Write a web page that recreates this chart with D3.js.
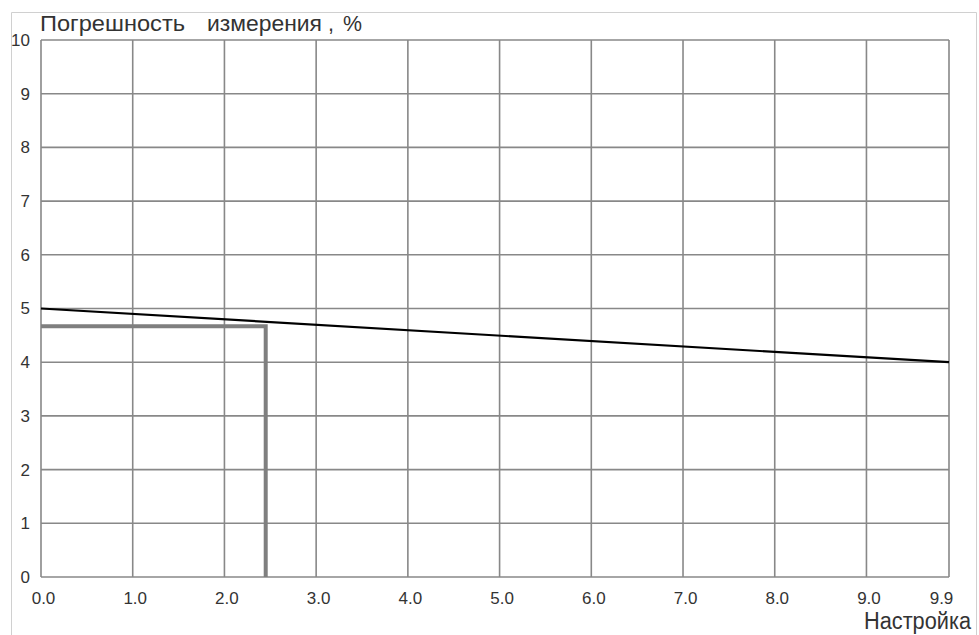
<!DOCTYPE html>
<html>
<head>
<meta charset="utf-8">
<script src="https://cdn.jsdelivr.net/npm/d3@7"></script>
<style>
  html, body { margin: 0; padding: 0; background: #fff; }
  svg { display: block; }
  text { font-family: "Liberation Sans", Arial, sans-serif; fill: #333; }
</style>
</head>
<body>
<script>
// Data
const xTickValues = [0, 1, 2, 3, 4, 5, 6, 7, 8, 9, 9.9];
const xTickLabels = ["0.0", "1.0", "2.0", "3.0", "4.0", "5.0", "6.0", "7.0", "8.0", "9.0", "9.9"];
const yTickValues = [0, 1, 2, 3, 4, 5, 6, 7, 8, 9, 10];
const errorLineX = [0, 9.9];
const errorLineY = [5, 4];
const markerX = [0, 2.45, 2.45];
const markerY = [4.67, 4.67, 0];
const yTitleParts = ["Погрешность", "измерения", ",", "%"];
const xTitle = "Настройка";

const W = 979, H = 635;
const margin = { left: 41, right: 30, top: 40, bottom: 58 };

const svg = d3.select("body").append("svg").attr("width", W).attr("height", H);

// outer frame
svg.append("path")
  .attr("d", `M11.5,${H} V12.5 H976.5 V${H}`)
  .attr("fill", "none").attr("stroke", "#d0d0d0").attr("stroke-width", 1);

const x = d3.scaleLinear().domain([0, 9.9]).range([margin.left, W - margin.right]);
const y = d3.scaleLinear().domain([0, 10]).range([H - margin.bottom, margin.top]);

// grid
const g = svg.append("g");
g.selectAll("line.v").data(xTickValues).enter().append("line")
  .attr("x1", d => x(d)).attr("x2", d => x(d))
  .attr("y1", y(0)).attr("y2", y(10))
  .attr("stroke", "#888").attr("stroke-width", 1.6);
g.selectAll("line.h").data(yTickValues).enter().append("line")
  .attr("y1", d => y(d)).attr("y2", d => y(d))
  .attr("x1", x(0)).attr("x2", x(9.9))
  .attr("stroke", "#888").attr("stroke-width", 1.6);

// axes labels via d3 axis
const xAxis = d3.axisBottom(x).tickValues(xTickValues)
  .tickFormat((d, i) => xTickLabels[i]).tickSize(0).tickPadding(15);
const xa = svg.append("g").attr("transform", `translate(0,${y(0)})`).call(xAxis);
xa.select(".domain").remove();
xa.selectAll("text").attr("font-size", 17).attr("fill", "#333")
  .attr("font-family", "'Liberation Sans', Arial, sans-serif")
  .attr("dx", (d, i) => i === xTickValues.length - 1 ? -8 : 2);

const yAxis = d3.axisLeft(y).tickValues(yTickValues).tickSize(0).tickPadding(11);
const ya = svg.append("g").attr("transform", `translate(${x(0)},0)`).call(yAxis);
ya.select(".domain").remove();
ya.selectAll("text").attr("font-size", 17).attr("fill", "#333")
  .attr("font-family", "'Liberation Sans', Arial, sans-serif");

// marker (gray) lines
const line = d3.line().x(d => x(d[0])).y(d => y(d[1]));
svg.append("path")
  .datum(markerX.map((v, i) => [v, markerY[i]]))
  .attr("d", line)
  .attr("fill", "none").attr("stroke", "#7f7f7f").attr("stroke-width", 4);

// error line
svg.append("path")
  .datum(errorLineX.map((v, i) => [v, errorLineY[i]]))
  .attr("d", line)
  .attr("fill", "none").attr("stroke", "#000").attr("stroke-width", 2.2);

// titles
const titleX = [40, 207, 328, 343];
const titleLen = [145, 115, 4, 19];
const tt = svg.append("g");
yTitleParts.forEach((t, i) => {
  const el = tt.append("text").attr("x", titleX[i]).attr("y", 30.5)
    .attr("font-size", 21.5).text(t);
  if (titleLen[i] > 6) el.attr("textLength", titleLen[i]).attr("lengthAdjust", "spacingAndGlyphs");
});
svg.append("text").attr("x", 864).attr("y", 629)
  .attr("font-size", 23.5).attr("textLength", 107).attr("lengthAdjust", "spacingAndGlyphs")
  .text(xTitle);
</script>
</body>
</html>
